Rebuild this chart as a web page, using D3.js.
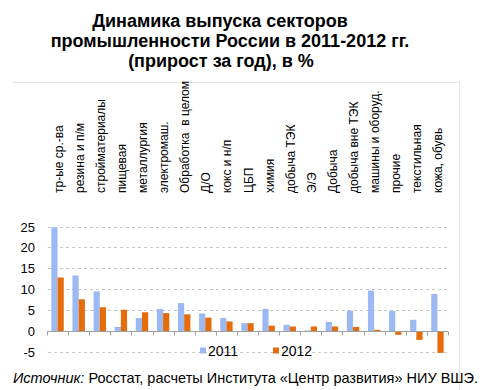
<!DOCTYPE html>
<html>
<head>
<meta charset="utf-8">
<script src="https://cdn.jsdelivr.net/npm/d3@7"></script>
<style>
body{margin:0;background:#fff;}
text{font-family:"Liberation Sans",Arial,sans-serif;fill:#000;}
</style>
</head>
<body>
<svg class="graph"></svg>
<script>
let width=490, height=390
let svg=d3.select('.graph').attr('width',width).attr('height',height)

// data
let categories=['тр-ые ср.-ва','резина и п/м','стройматериалы','пищевая','металлургия','электромаш.',
  'Обработка\u00a0\u00a0в целом','Д/О','кокс и н/п','ЦБП','химия','добыча ТЭК','Э/Э','Добыча',
  'добыча вне ТЭК','машины и оборуд.','прочие','текстильная','кожа, обувь']
let years=['2011','2012']
let values2011=[24.8,13.3,9.5,1.0,3.1,5.3,6.7,4.2,3.1,1.9,5.3,1.5,0.15,2.2,4.9,9.7,4.8,2.7,8.9]
let values2012=[12.8,7.6,5.7,5.1,4.5,4.3,4.0,3.2,2.3,1.9,1.3,1.1,1.1,1.1,1.0,0.3,-0.9,-2.1,-5.2]
let yticks=[-5,0,5,10,15,20,25]
let colors=['#9cb9f3','#e46c0a']

let data=categories.map((c,i)=>({name:c,v:[values2011[i],values2012[i]]}))

// frame
svg.append('line').attr('x1',13).attr('x2',459).attr('y1',82.5).attr('y2',82.5).attr('stroke','#e4e4e4')
svg.append('line').attr('x1',459.5).attr('x2',459.5).attr('y1',82).attr('y2',390).attr('stroke','#e4e4e4')

// title
let title=[['Динамика выпуска секторов',220,27],['промышленности России в 2011-2012 гг.',230,47],['(прирост за год), в %',221,67]]
svg.selectAll('.title').data(title).join('text')
   .attr('class','title')
   .attr('x',d=>d[1]).attr('y',d=>d[2])
   .attr('text-anchor','middle')
   .style('font-size','18px').style('font-weight','bold')
   .text(d=>d[0])

let xscale=d3.scaleBand().domain(categories).range([47,448])
let xinner=d3.scaleBand().domain(years).range([0,xscale.bandwidth()]).paddingOuter(0.7)
let yscale=d3.scaleLinear().domain([-5,25]).range([352,226.5])

// gridlines
svg.append('g').selectAll('line').data(yticks.filter(t=>t!=0)).join('line')
   .attr('x1',48).attr('x2',448)
   .attr('y1',d=>Math.round(yscale(d))+0.5).attr('y2',d=>Math.round(yscale(d))+0.5)
   .attr('stroke','#c8c8c8').attr('stroke-dasharray','3,3')

// y labels
svg.append('g').selectAll('text').data(yticks).join('text')
   .attr('x',35).attr('y',d=>yscale(d)+5)
   .attr('text-anchor','end')
   .style('font-size','13px')
   .text(d=>d)

// bars
let groups=svg.append('g').selectAll('g').data(data).join('g')
   .attr('transform',d=>`translate(${xscale(d.name)},0)`)
groups.selectAll('rect').data(d=>d.v.map((v,i)=>({year:years[i],v:v,i:i}))).join('rect')
   .attr('x',d=>xinner(d.year))
   .attr('width',xinner.bandwidth())
   .attr('y',d=>yscale(Math.max(0,d.v)))
   .attr('height',d=>Math.abs(yscale(d.v)-yscale(0)))
   .attr('fill',d=>colors[d.i])

// zero axis with ticks
let y0=Math.round(yscale(0))+0.5
svg.append('line').attr('x1',47).attr('x2',448).attr('y1',y0).attr('y2',y0).attr('stroke','#a0a0a0')
svg.append('g').selectAll('line').data(categories.concat(['end'])).join('line')
   .attr('x1',(d,i)=>Math.round(47+i*xscale.step())+0.5)
   .attr('x2',(d,i)=>Math.round(47+i*xscale.step())+0.5)
   .attr('y1',y0).attr('y2',y0+4)
   .attr('stroke','#a0a0a0')

// category labels
svg.append('g').selectAll('text').data(categories).join('text')
   .attr('transform',d=>`translate(${xscale(d)+xscale.bandwidth()/2+5},193) rotate(-90)`)
   .style('font-size','12px')
   .text(d=>d)

// legend
let legend=[[years[0],200],[years[1],273]]
legend.forEach((l,i)=>{
    svg.append('rect').attr('x',l[1]).attr('y',347.5).attr('width',6).attr('height',6).attr('fill',colors[i])
    svg.append('text').attr('x',l[1]+8).attr('y',356).style('font-size','14px').text(l[0])
})

// source
let src=svg.append('text').attr('x',13).attr('y',383).style('font-size','14.5px')
src.append('tspan').style('font-style','italic').text('Источник:')
src.append('tspan').text(' Росстат, расчеты Института «Центр развития» НИУ ВШЭ.')
</script>
</body>
</html>
